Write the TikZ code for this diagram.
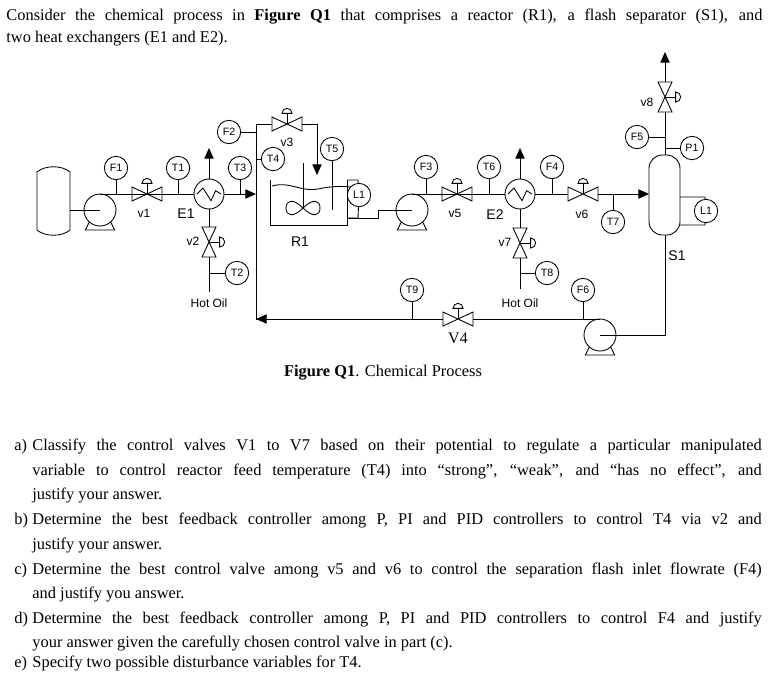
\documentclass[tikz,border=0pt]{standalone}
\usepackage{fontspec}
\setmainfont{Liberation Serif}
\newfontfamily\dsans{Liberation Sans}
\usetikzlibrary{arrows.meta}
\newcommand\jline[2]{\makebox[#1][s]{#2}}
\begin{document}
\begin{tikzpicture}[x=0.75pt,y=-0.75pt,line width=0.65pt,
  inst/.style={circle,draw,minimum size=17.5pt,inner sep=0pt,font=\dsans\fontsize{8}{8}\selectfont,fill=white},
  lbl/.style={font=\dsans\fontsize{9}{9}\selectfont,inner sep=0pt},
  big/.style={font=\dsans\fontsize{10.5}{10.5}\selectfont,inner sep=0pt},
  arr/.style={-{Triangle[length=8pt,width=7pt]}},
  txt/.style={anchor=base west,inner sep=0pt,font=\fontsize{12.3}{13}\selectfont},
  pics/hvalve/.style={code={
    \draw (-11.25pt,-5.25pt)--(-11.25pt,5.25pt)--(11.25pt,-5.25pt)--(11.25pt,5.25pt)--cycle;
    \draw (0,0)--(0,8pt); \draw (-3.75pt,8pt) arc (180:0:3.75pt) -- cycle;}},
  pics/hvalvep/.style={code={
    \draw (-11.25pt,-5.25pt)--(-11.25pt,5.25pt)--(11.25pt,-5.25pt)--(11.25pt,5.25pt)--cycle;
    \draw (0,0)--(0,8pt); \draw (-3.75pt,8pt) arc (180:0:3.75pt) -- cycle;}},
  pics/vvalve/.style={code={
    \draw (-5.25pt,-11.25pt)--(5.25pt,-11.25pt)--(-5.25pt,11.25pt)--(5.25pt,11.25pt)--cycle;
    \draw (0,0)--(8pt,0); \draw (8pt,3.75pt) arc (90:-90:3.75pt) -- cycle;}},
  pics/pump/.style={code={
    \draw (0,0) circle (12pt);
    \draw (-8pt,-9pt)--(-11pt,-15pt)--(11pt,-15pt)--(8pt,-9pt);}},
  pics/hx/.style={code={
    \draw (0,0) circle (11.25pt);
    \draw (-9pt,0)--(-4.5pt,4.5pt)--(1.5pt,-5pt)--(5pt,2.5pt)--(9pt,0);}}
]
\useasboundingbox (0,0) rectangle (774,690);

% header text
\node[txt] (h1) at (6,20) {\jline{567pt}{Consider the chemical process in \textbf{Figure Q1} that comprises a reactor (R1), a flash separator (S1), and}};
\node[txt] (h2) at (6,42) {two heat exchangers (E1 and E2).};

% tank
\draw (37,230)--(37,172) .. controls (45,165) and (62,165) .. (70,172) -- (70,230) .. controls (62,237) and (45,237) .. (37,230);
% pump1
\pic at (100,210) {pump};
\coordinate (p1c) at (100,210);
\draw (70,210)--(p1c);
\draw (100,194)--(194,194);
\node[inst] (F1) at (116,168) {F1};
\draw (F1)--(116,194);
\pic at (147,194) {hvalve};
\node[lbl] (lv1) at (144,213) {v1};
\node[inst] (T1) at (178,168) {T1};
\draw (T1)--(178,194);
\pic at (209,194) {hx};
\node[big] (lE1) at (186,214) {E1};
\draw[arr] (209,179)--(209,148);
\node[inst] (T3) at (240,168) {T3};
\draw (T3)--(240,194);
\draw[arr] (224,194)--(256,194);
% v2 line
\draw (209,209)--(209,227);
\pic at (209,242) {vvalve};
\node[lbl] (lv2) at (193,241) {v2};
\draw (209,257)--(209,292);
\node[inst] (T2) at (237,273) {T2};
\draw (T2)--(209,273);
\node[lbl] (ho1) at (209,303) {Hot Oil};
% vertical feed line
\draw (256,124)--(256,320);
\node[inst] (F2) at (229,132) {F2};
\draw (F2)--(256,132);
\node[inst] (T4) at (273,159) {T4};
\draw (T4)--(256,159);
\draw (256,124)--(272,124);
\pic at (287,124) {hvalve};
\node[lbl] (lv3) at (287,142) {v3};
\draw (302,124)--(317,124);
\draw[arr] (317,124)--(317,175);
% reactor
\draw (270,180)--(270,225)--(347,225)--(347,180);
\draw (272,186) .. controls (290,181) and (300,192) .. (318,189) .. controls (332,186) and (342,186) .. (350,187);
\draw (303,163)--(303,208);
\draw (303,208) .. controls (293,198) and (286,200) .. (286,208) .. controls (286,216) and (293,218) .. (303,208)
      .. controls (313,198) and (320,200) .. (320,208) .. controls (320,216) and (313,218) .. (303,208);
\node[inst] (T5) at (332,149) {T5};
\draw (T5)--(332,210);
\node[inst] (L1a) at (359,195) {L1};
\draw (347,180)--(358,180)--(L1a);
\draw (347,218)--(358,218)--(L1a);
\node[big] (lR1) at (300,242) {R1};
% reactor outlet to pump2
\draw (347,218)--(378,218)--(378,210)--(412,210);
\pic at (412,210) {pump};
\draw (412,194)--(505,194);
\node[inst] (F3) at (426,167) {F3};
\draw (F3)--(426,194);
\pic at (457,194) {hvalve};
\node[lbl] (lv5) at (455,213) {v5};
\node[inst] (T6) at (489,167) {T6};
\draw (T6)--(489,194);
\pic at (520,194) {hx};
\node[big] (lE2) at (495,215) {E2};
\draw[arr] (520,179)--(520,148);
\draw (535,194)--(568,194);
\node[inst] (F4) at (552,167) {F4};
\draw (F4)--(552,194);
\pic at (583,194) {hvalve};
\node[lbl] (lv6) at (582,214) {v6};
\draw[arr] (598,194)--(649,194);
\node[inst] (T7) at (613,222) {T7};
\draw (T7)--(613,194);
% v7
\draw (520,209)--(520,228);
\pic at (520,243) {vvalve};
\node[lbl] (lv7) at (505,242) {v7};
\draw (520,258)--(520,289);
\node[inst] (T8) at (547,273) {T8};
\draw (T8)--(520,273);
\node[lbl] (ho2) at (520,303) {Hot Oil};
% separator
\draw[rounded corners=10pt] (649,155) rectangle (680,235);
\node[big] (lS1) at (677,256) {S1};
\node[inst] (L1b) at (706,211) {L1};
\draw (680,197)--(705,197)--(L1b);
\draw (680,225)--(705,225)--(L1b);
\draw (665,155)--(665,112);
\node[inst] (P1) at (692,148) {P1};
\draw (P1)--(665,148);
\node[inst] (F5) at (637,137) {F5};
\draw (F5)--(665,137);
\pic at (665,97) {vvalve};
\node[lbl] (lv8) at (647,102) {v8};
\draw[arr] (665,82)--(665,52);
% bottom
\draw (665,235)--(665,335)--(600,335);
\pic at (600,335) {pump};
\draw (600,319)--(473,319);
\node[inst] (F6) at (583,290) {F6};
\draw (F6)--(583,319);
\pic at (458,319) {hvalvep};
\node[inst] (T9) at (412,290) {T9};
\draw (T9)--(412,319);
\draw[arr] (443,319)--(256,319);
\node[font=\fontsize{12}{12}\selectfont,inner sep=0pt] (lv4) at (458,338) {V4};
% caption
\node[font=\fontsize{12.3}{13}\selectfont,inner sep=0pt] (cap) at (383,373) {\textbf{Figure Q1}. Chemical Process};
% questions
\foreach \lab/\y in {a)/450,b)/524,c)/574,d)/623,e)/667}
  \node[txt] at (14,\y) {\lab};
\node[txt] at (32,450) {\jline{547pt}{Classify the control valves V1 to V7 based on their potential to regulate a particular manipulated}};
\node[txt] at (32,475) {\jline{547pt}{variable to control reactor feed temperature (T4) into “strong”, “weak”, and “has no effect”, and}};
\node[txt] at (32,499) {justify your answer.};
\node[txt] at (32,524) {\jline{547pt}{Determine the best feedback controller among P, PI and PID controllers to control T4 via v2 and}};
\node[txt] at (32,549) {justify your answer.};
\node[txt] at (32,574) {\jline{547pt}{Determine the best control valve among v5 and v6 to control the separation flash inlet flowrate (F4)}};
\node[txt] at (32,598) {and justify you answer.};
\node[txt] at (32,623) {\jline{547pt}{Determine the best feedback controller among P, PI and PID controllers to control F4 and justify}};
\node[txt] at (32,647) {your answer given the carefully chosen control valve in part (c).};
\node[txt] at (32,667) {Specify two possible disturbance variables for T4.};
\end{tikzpicture}
\end{document}
